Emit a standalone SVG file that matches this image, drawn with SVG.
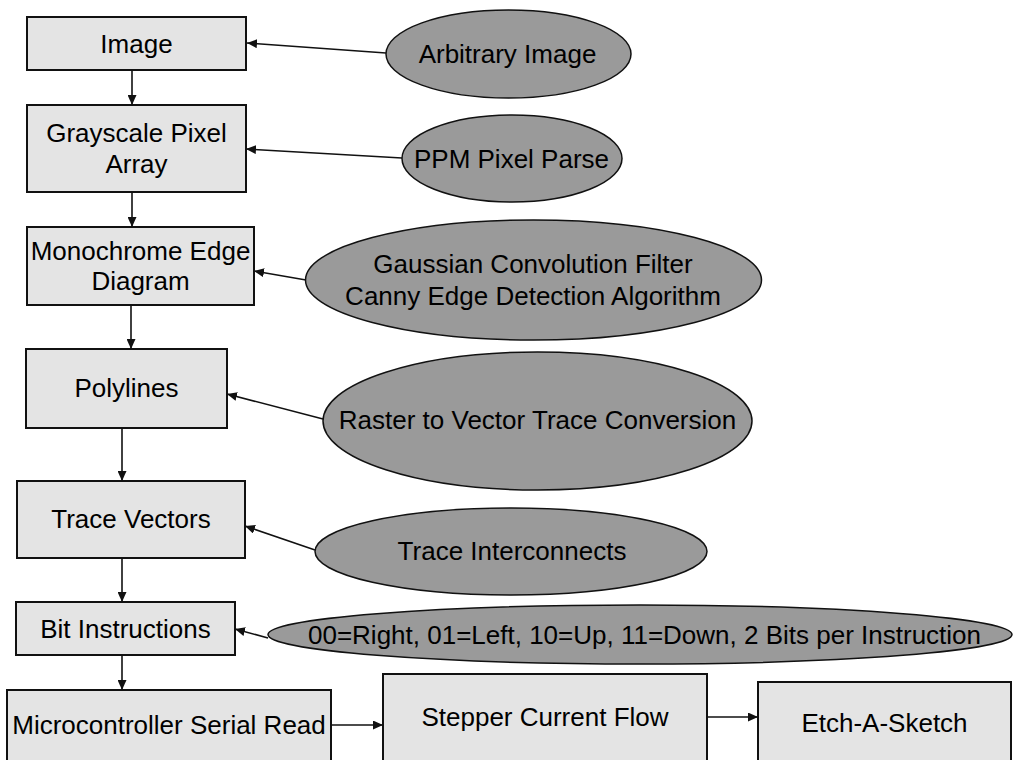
<svg xmlns="http://www.w3.org/2000/svg" width="1013" height="760" viewBox="0 0 1013 760">
<style>
.box{fill:#e4e4e4;stroke:#111;stroke-width:2}
.ell{fill:#9a9a9a;stroke:#111;stroke-width:1.5}
.t{font-family:"Liberation Sans",Arial,sans-serif;font-size:26px;fill:#000;text-anchor:middle}
.c{fill:none;stroke:#111;stroke-width:1.6;marker-end:url(#ah)}
</style>
<defs>
<marker id="ah" markerUnits="userSpaceOnUse" markerWidth="11" markerHeight="9" refX="10" refY="4.5" orient="auto">
<path d="M0,0 L10,4.5 L0,9 z" fill="#111"/>
</marker>
</defs>
<rect width="1013" height="760" fill="#fff"/>

<g id="n-image"><rect class="box" x="27" y="17" width="219" height="53"/><text class="t" x="136.5" y="53">Image</text></g>
<g id="n-gray"><rect class="box" x="27" y="105" width="219" height="87"/><text class="t" x="136.5" y="142">Grayscale Pixel</text><text class="t" x="136.5" y="173">Array</text></g>
<g id="n-mono"><rect class="box" x="27" y="227" width="227" height="78"/><text class="t" x="140.5" y="260">Monochrome Edge</text><text class="t" x="140.5" y="290">Diagram</text></g>
<g id="n-poly"><rect class="box" x="26" y="349" width="201" height="79"/><text class="t" x="126.5" y="397">Polylines</text></g>
<g id="n-trace"><rect class="box" x="17" y="481" width="228" height="77"/><text class="t" x="131" y="528">Trace Vectors</text></g>
<g id="n-bit"><rect class="box" x="16" y="602" width="219" height="53"/><text class="t" x="125.5" y="638">Bit Instructions</text></g>
<g id="n-micro"><rect class="box" x="7" y="690" width="324" height="80"/><text class="t" x="169" y="734">Microcontroller Serial Read</text></g>
<g id="n-stepper"><rect class="box" x="383" y="674" width="324" height="96"/><text class="t" x="545" y="726">Stepper Current Flow</text></g>
<g id="n-etch"><rect class="box" x="758" y="682" width="253" height="88"/><text class="t" x="884.5" y="732">Etch-A-Sketch</text></g>

<g id="e-arb"><ellipse class="ell" cx="508.5" cy="54" rx="122.5" ry="44"/><text class="t" x="507.5" y="63">Arbitrary Image</text></g>
<g id="e-ppm"><ellipse class="ell" cx="512" cy="158.5" rx="110" ry="43.5"/><text class="t" x="511.5" y="168">PPM Pixel Parse</text></g>
<g id="e-gauss"><ellipse class="ell" cx="533.5" cy="280" rx="228" ry="60"/><text class="t" x="533" y="273">Gaussian Convolution Filter</text><text class="t" x="533" y="305">Canny Edge Detection Algorithm</text></g>
<g id="e-raster"><ellipse class="ell" cx="537.5" cy="421" rx="214.5" ry="69"/><text class="t" x="537.5" y="429">Raster to Vector Trace Conversion</text></g>
<g id="e-inter"><ellipse class="ell" cx="511" cy="551.5" rx="196" ry="43.5"/><text class="t" x="512" y="560">Trace Interconnects</text></g>
<g id="e-bits"><ellipse class="ell" cx="640" cy="634.5" rx="372" ry="29.5"/><text class="t" x="644.5" y="644">00=Right, 01=Left, 10=Up, 11=Down, 2 Bits per Instruction</text></g>

<g id="connectors">
<line class="c" x1="132" y1="70" x2="132" y2="105"/>
<line class="c" x1="132" y1="192" x2="132" y2="227"/>
<line class="c" x1="131" y1="305" x2="131" y2="349"/>
<line class="c" x1="122" y1="428" x2="122" y2="481"/>
<line class="c" x1="122" y1="558" x2="122" y2="602"/>
<line class="c" x1="122" y1="655" x2="122" y2="690"/>
<line class="c" x1="331" y1="725" x2="383" y2="725"/>
<line class="c" x1="707" y1="717" x2="758" y2="717"/>
<line class="c" x1="386" y1="53" x2="247" y2="43"/>
<line class="c" x1="402" y1="158" x2="246" y2="149"/>
<line class="c" x1="306" y1="280" x2="254" y2="271"/>
<line class="c" x1="323" y1="419" x2="227" y2="394"/>
<line class="c" x1="315" y1="550" x2="245" y2="526"/>
<line class="c" x1="268" y1="638" x2="235" y2="629"/>
</g>
</svg>
